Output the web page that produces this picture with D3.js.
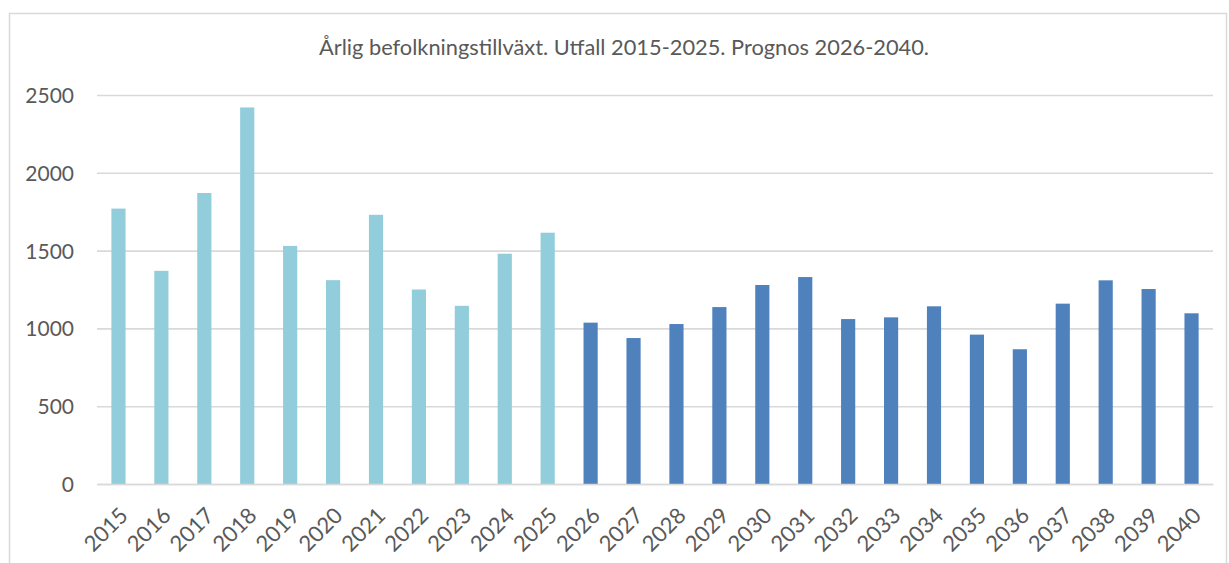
<!DOCTYPE html>
<html><head><meta charset="utf-8">
<script src="https://cdn.jsdelivr.net/npm/d3@7"></script>
<style>body{margin:0;background:#fff}svg{display:block}text{font-family:Lato,'Open Sans',sans-serif;fill:#595959}</style>
</head><body><svg id="c" width="1229" height="563"></svg>
<script>
const years = ["2015","2016","2017","2018","2019","2020","2021","2022","2023","2024","2025","2026","2027","2028","2029","2030","2031","2032","2033","2034","2035","2036","2037","2038","2039","2040"];
const values = [1770,1370,1870,2420,1530,1310,1730,1250,1145,1480,1615,1037,938,1028,1137,1279,1330,1060,1071,1142,960,866,1159,1309,1253,1097];
const kinds = ["Utfall","Utfall","Utfall","Utfall","Utfall","Utfall","Utfall","Utfall","Utfall","Utfall","Utfall","Prognos","Prognos","Prognos","Prognos","Prognos","Prognos","Prognos","Prognos","Prognos","Prognos","Prognos","Prognos","Prognos","Prognos","Prognos"];
const yTicks = [0,500,1000,1500,2000,2500];
const title = "Årlig befolkningstillväxt. Utfall 2015-2025. Prognos 2026-2040.";

const svg = d3.select("#c");
const m = {l:97, r:1213, t:95, b:484};
const x = d3.scaleBand().domain(years).range([m.l, m.r]).paddingInner(0.67).paddingOuter(0.335);
const y = d3.scaleLinear().domain([0,2500]).range([m.b, m.t]);
const color = d3.scaleOrdinal().domain(["Utfall","Prognos"]).range(["#92CDDC","#4F81BD"]);

svg.append("rect").attr("x",9.5).attr("y",13.5).attr("width",1217).attr("height",600)
  .attr("fill","#fff").attr("stroke","#D9D9D9").attr("stroke-width",1.5);

svg.append("text").attr("x",624).attr("y",55).attr("text-anchor","middle")
  .style("font-size","21.8px").text(title);

const ya = svg.append("g").attr("transform",`translate(${m.l},0)`)
  .call(d3.axisLeft(y).tickValues(yTicks).tickFormat(d3.format("d")).tickSize(-(m.r-m.l)).tickPadding(23));
ya.select(".domain").remove();
ya.selectAll(".tick line").attr("stroke","#D9D9D9").attr("stroke-width",1.6);
ya.selectAll(".tick text").style("font-size","21px").attr("fill","#595959").attr("dy","0.36em");

svg.append("g").selectAll("rect").data(years).join("rect")
  .attr("x",d=>x(d)).attr("width",x.bandwidth())
  .attr("y",(d,i)=>y(values[i])).attr("height",(d,i)=>y(0)-y(values[i]))
  .attr("fill",(d,i)=>color(kinds[i]));

const xa = svg.append("g").attr("transform",`translate(0,${m.b})`)
  .call(d3.axisBottom(x).tickSize(0).tickPadding(0));
xa.select(".domain").attr("stroke","#D9D9D9").attr("stroke-width",1.6);
xa.selectAll(".tick text").style("font-size","22px").attr("fill","#595959")
  .attr("text-anchor","end").attr("dy","0.7em")
  .attr("transform","translate(0,22) rotate(-45)");
</script></body></html>
